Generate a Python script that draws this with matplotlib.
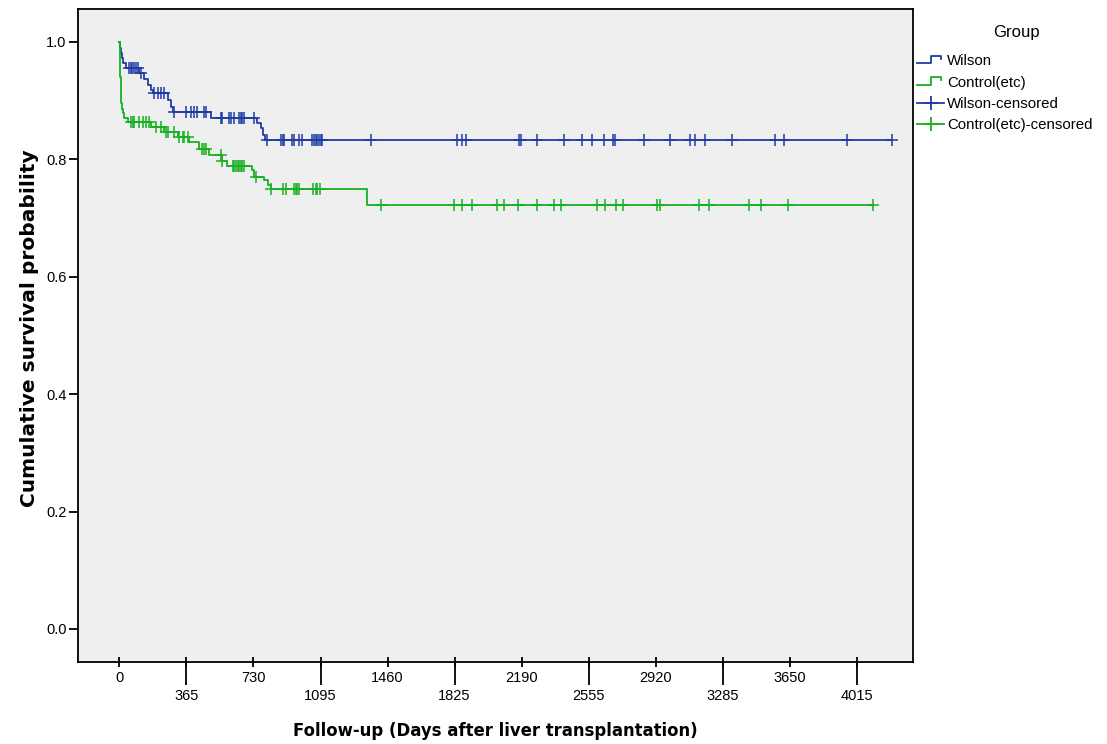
import numpy as np
import matplotlib
matplotlib.use("Agg")
import matplotlib.pyplot as plt
from matplotlib.lines import Line2D
from matplotlib.legend_handler import HandlerBase

# Kaplan-Meier step points (day, survival)
wilson_days = [0, 3, 8, 12, 17, 35, 108, 135, 153, 171, 185, 262, 280, 289,
               498, 748, 770, 784, 793, 4205]
wilson_surv = [1.0, 0.99, 0.98, 0.972, 0.963, 0.955, 0.946, 0.937, 0.926, 0.918,
               0.912, 0.901, 0.889, 0.881, 0.870, 0.861, 0.853, 0.842, 0.833, 0.833]
wilson_censored = [53, 63, 71, 80, 90, 99, 117, 189, 208, 226, 244, 298, 362, 389,
                   407, 425, 461, 470, 552, 561, 597, 606, 624, 652, 661, 670, 679,
                   733, 806, 878, 888, 897, 942, 951, 978, 996, 1051, 1060, 1069,
                   1078, 1087, 1096, 1105, 1368, 1839, 1863, 1888, 2175, 2187, 2274,
                   2419, 2519, 2574, 2641, 2688, 2700, 2854, 3000, 3108, 3136, 3190,
                   3335, 3571, 3621, 3961, 4205]

control_days = [0, 1, 2, 3, 4, 6, 8, 10, 14, 20, 26, 44, 171, 244, 317, 380, 434,
                489, 560, 588, 724, 733, 788, 810, 824, 1350, 4102]
control_surv = [1.0, 0.985, 0.97, 0.955, 0.94, 0.925, 0.91, 0.895, 0.885, 0.878,
                0.870, 0.863, 0.855, 0.847, 0.838, 0.829, 0.817, 0.807, 0.797,
                0.789, 0.781, 0.770, 0.764, 0.756, 0.749, 0.722, 0.722]
control_censored = [63, 72, 80, 108, 126, 144, 162, 199, 226, 253, 262, 298, 325,
                    344, 352, 371, 452, 461, 470, 552, 561, 616, 624, 634, 643, 652,
                    661, 670, 679, 742, 824, 888, 906, 951, 960, 969, 978, 1056,
                    1069, 1078, 1092, 1422, 1821, 1863, 1921, 2057, 2093, 2169,
                    2274, 2365, 2405, 2601, 2646, 2706, 2742, 2927, 2941, 3154,
                    3208, 3426, 3493, 3640, 4102]

x_ticks = [0, 365, 730, 1095, 1460, 1825, 2190, 2555, 2920, 3285, 3650, 4015]
y_ticks = [0.0, 0.2, 0.4, 0.6, 0.8, 1.0]

C_WILSON = "#1f3ca6"
C_CONTROL = "#16b022"
FONT = "Liberation Sans"


def surv_at(days, surv, t):
    idx = np.searchsorted(days, t, side="right") - 1
    return np.array(surv)[idx]


class StepIcon:
    def __init__(self, color):
        self.color = color


class HandlerStep(HandlerBase):
    def create_artists(self, legend, orig_handle, xdescent, ydescent,
                       width, height, fontsize, trans):
        xs = np.array([0, 0.5, 0.5, 0.9, 0.9]) * width - xdescent
        ys = np.array([0.15, 0.15, 0.9, 0.9, 0.6]) * height - ydescent
        return [Line2D(xs, ys, color=orig_handle.color, lw=1.3, transform=trans)]


fig = plt.figure(figsize=(11.07, 7.44), dpi=100)
fig.patch.set_facecolor("white")
ax = fig.add_axes([78.3 / 1107, 1 - 661.7 / 744, (913.3 - 78.3) / 1107, (661.7 - 9) / 744])
ax.set_facecolor("#efefef")

for days, surv, cens, col in [(wilson_days, wilson_surv, wilson_censored, C_WILSON),
                              (control_days, control_surv, control_censored, C_CONTROL)]:
    ax.step(days, surv, where="post", color=col, lw=1.3, zorder=3)
    ax.plot(cens, surv_at(days, surv, cens), ls="none", marker="+", ms=9,
            mew=1.1, color=col, zorder=4)

ax.set_xlim(-224, 4323)
ax.set_ylim(-0.0557, 1.0557)

for sp in ax.spines.values():
    sp.set_color("black")
    sp.set_linewidth(1.3)

# staggered x tick labels like SPSS
ax.xaxis.remove_overlapping_locs = False
ax.set_xticks(x_ticks)
ax.set_xticklabels([str(v) if i % 2 == 0 else "" for i, v in enumerate(x_ticks)],
                   fontfamily=FONT, fontsize=10.5)
ax.set_xticks(x_ticks[1::2], minor=True)
ax.set_xticklabels([str(v) for v in x_ticks[1::2]], minor=True,
                   fontfamily=FONT, fontsize=10.5)
ax.tick_params(axis="x", which="major", direction="inout", length=7.2, width=1.3, pad=3)
ax.tick_params(axis="x", which="minor", direction="out", length=16.5, width=1.3, pad=3)

ax.set_yticks(y_ticks)
ax.set_yticklabels([f"{v:.1f}" for v in y_ticks], fontfamily=FONT, fontsize=10.5)
ax.tick_params(axis="y", direction="out", length=6.5, width=1.3, pad=2)

fig.text(495 / 1107, 1 - 731 / 744, "Follow-up (Days after liver transplantation)",
         ha="center", va="center", fontsize=11.9, fontweight="bold", family="DejaVu Sans")
fig.text(30 / 1107, 1 - 328 / 744, "Cumulative survival probability", rotation=90,
         ha="center", va="center", fontsize=14.5, fontweight="bold", family="DejaVu Sans")

fig.text(1016 / 1107, 1 - 32 / 744, "Group", ha="center", va="center",
         fontsize=12, family=FONT)

handles = [StepIcon(C_WILSON), StepIcon(C_CONTROL),
           Line2D([0], [0], color=C_WILSON, lw=1.3, marker="+", ms=10, mew=1.3),
           Line2D([0], [0], color=C_CONTROL, lw=1.3, marker="+", ms=10, mew=1.3)]
labels = ["Wilson", "Control(etc)", "Wilson-censored", "Control(etc)-censored"]
fig.legend(handles, labels, handler_map={StepIcon: HandlerStep()},
           loc="upper left", bbox_to_anchor=(917 / 1107, 1 - 54 / 744),
           frameon=False, handlelength=1.8, handletextpad=0.2,
           labelspacing=0.5, borderpad=0, borderaxespad=0,
           prop={"family": FONT, "size": 10.8})

fig.savefig("out.png", dpi=100)
